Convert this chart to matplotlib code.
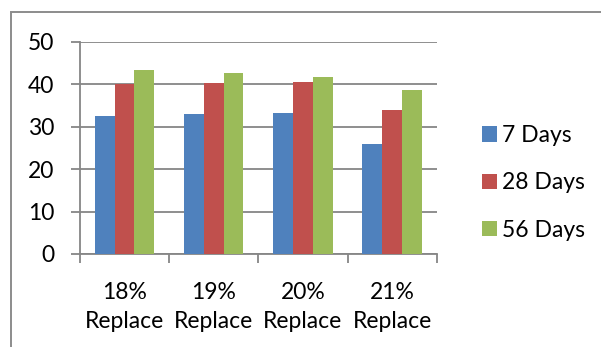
# compressive strength by replacement level and curing age
import numpy as np
import matplotlib
matplotlib.use("Agg")
import matplotlib.pyplot as plt
from matplotlib.patches import Rectangle

categories = ["18%\nReplace", "19%\nReplace", "20%\nReplace", "21%\nReplace"]
series_names = ["7 Days", "28 Days", "56 Days"]
days_7 = [32.5, 33.0, 33.2, 26.0]
days_28 = [40.1, 40.3, 40.5, 33.8]
days_56 = [43.3, 42.6, 41.6, 38.6]
colors = ["#4F81BD", "#C0504D", "#9BBB59"]

plt.rcParams["font.family"] = ["Lato", "DejaVu Sans"]
plt.rcParams["font.size"] = 16.5

fig = plt.figure(figsize=(6.01, 3.47), dpi=100)
W, H = 601, 347

# outer chart frame, right and bottom edges fall outside the image
fig.patches.append(Rectangle((11 / W, -0.1), 1.2, (H - 11.7) / H + 0.1,
                             transform=fig.transFigure, fill=False,
                             edgecolor="#8c8c8c", linewidth=1.4))

ax = fig.add_axes([80 / W, 93 / H, (436.7 - 80) / W, (254 - 41.7) / H])

x = np.arange(len(categories))
w = 1 / 4.5
for i, vals in enumerate([days_7, days_28, days_56]):
    ax.bar(x + (i - 1) * w, vals, w, color=colors[i], label=series_names[i], zorder=3)

ax.set_xlim(-0.5, len(categories) - 0.5)
ax.set_ylim(0, 50)
ax.set_yticks(range(0, 51, 10))
ax.yaxis.grid(True, color="#868686", linewidth=1.3, zorder=0)

ax.set_xticks(np.arange(-0.5, len(categories)), labels=[])
ax.set_xticks(x, labels=categories, minor=True)
ax.tick_params(axis="x", which="major", length=6.5, width=1.3, color="#868686")
ax.tick_params(axis="x", which="minor", length=0, pad=20.5)
ax.tick_params(axis="y", length=6.5, width=1.3, color="#868686", pad=12)
for lbl in ax.get_xticklabels(minor=True):
    lbl.set_linespacing(1.45)

for side in ["top", "right"]:
    ax.spines[side].set_visible(False)
for side in ["left", "bottom"]:
    ax.spines[side].set_color("#868686")
    ax.spines[side].set_linewidth(1.3)

fig.legend(loc="center left", bbox_to_anchor=(471 / W, (H - 183) / H),
           frameon=False, handlelength=0.65, handleheight=0.65,
           handletextpad=0.2, labelspacing=1.15, borderpad=0)

fig.savefig("out.png", dpi=100)
